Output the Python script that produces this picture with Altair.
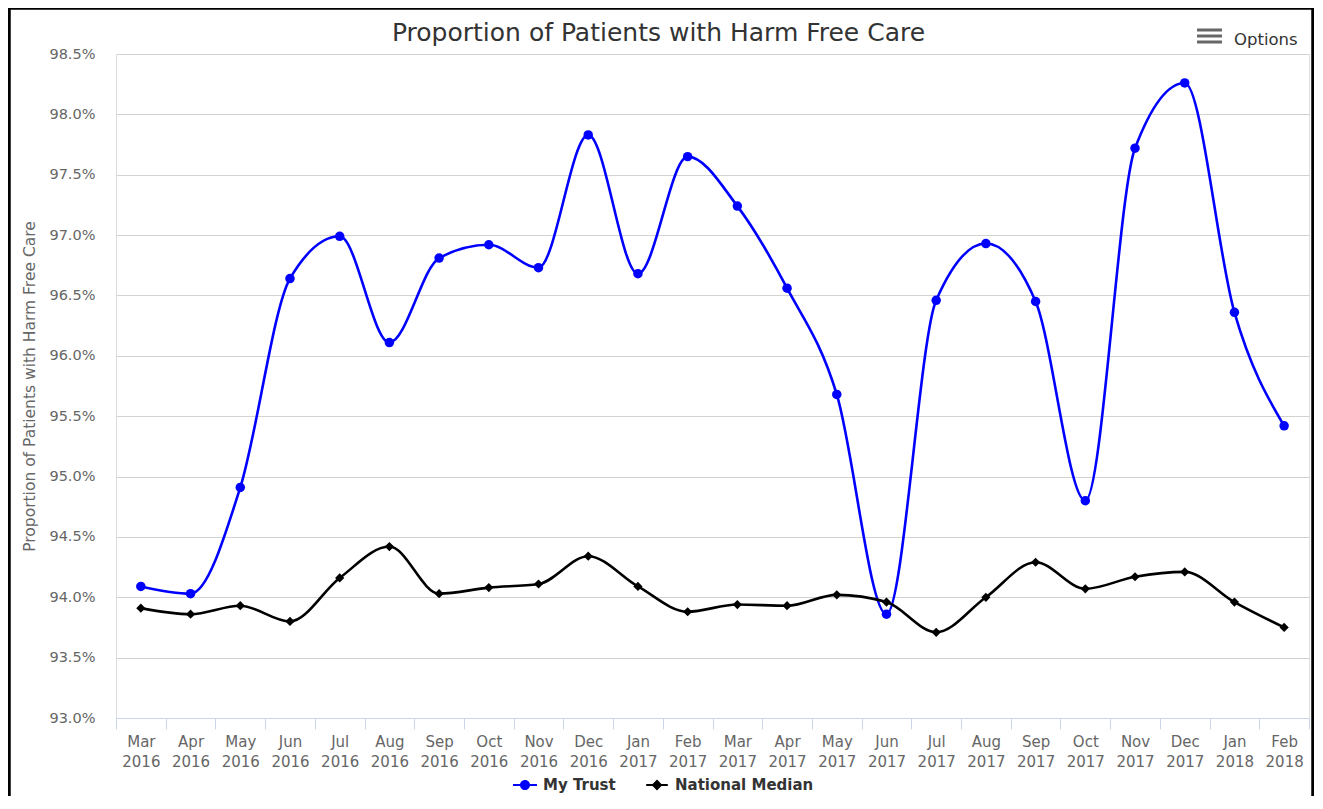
import altair as alt
import pandas as pd

months = ["Mar 2016", "Apr 2016", "May 2016", "Jun 2016", "Jul 2016", "Aug 2016",
          "Sep 2016", "Oct 2016", "Nov 2016", "Dec 2016", "Jan 2017", "Feb 2017",
          "Mar 2017", "Apr 2017", "May 2017", "Jun 2017", "Jul 2017", "Aug 2017",
          "Sep 2017", "Oct 2017", "Nov 2017", "Dec 2017", "Jan 2018", "Feb 2018"]

my_trust = [94.09, 94.03, 94.91, 96.64, 96.99, 96.11, 96.81, 96.92, 96.73, 97.83,
            96.68, 97.65, 97.24, 96.56, 95.68, 93.86, 96.46, 96.93, 96.45, 94.80,
            97.72, 98.26, 96.36, 95.42]

national_median = [93.91, 93.86, 93.93, 93.80, 94.16, 94.42, 94.03, 94.08, 94.11, 94.34,
                   94.09, 93.88, 93.94, 93.93, 94.02, 93.96, 93.71, 94.00, 94.29, 94.07,
                   94.17, 94.21, 93.96, 93.75]

series_names = ["My Trust", "National Median"]
series_colors = ["#0000ff", "#000000"]
y_ticks = [93.0, 93.5, 94.0, 94.5, 95.0, 95.5, 96.0, 96.5, 97.0, 97.5, 98.0, 98.5]

df = pd.DataFrame({
    "month": months * 2,
    "series": [series_names[0]] * len(months) + [series_names[1]] * len(months),
    "value": my_trust + national_median,
})

FONT = "DejaVu Sans"
W, H = 1193, 664

color_scale = alt.Scale(domain=series_names, range=series_colors)

x_enc = alt.X(
    "month:N", sort=months,
    scale=alt.Scale(type="band", paddingInner=0, paddingOuter=0),
    axis=alt.Axis(
        title=None, labelAngle=0, tickBand="extent", grid=False,
        domainColor="#ccd6eb", tickColor="#ccd6eb", tickSize=11, tickWidth=1,
        labelExpr="split(datum.label, ' ')", labelLineHeight=20,
        labelFont=FONT, labelFontSize=15, labelColor="#666666",
        labelPadding=5, labelOverlap=False,
    ),
)
y_enc = alt.Y(
    "value:Q",
    scale=alt.Scale(domain=[93.0, 98.5], nice=False, zero=False),
    axis=alt.Axis(
        values=y_ticks, labelExpr="format(datum.value, '.1f') + '%'",
        title="Proportion of Patients with Harm Free Care",
        titleFont=FONT, titleFontSize=15.5, titleFontWeight="normal", titleColor="#666666",
        titleX=-79, titleY=H / 2,
        labelFont=FONT, labelFontSize=14.5, labelColor="#666666",
        ticks=False, tickSize=0, domain=False, labelPadding=21,
        grid=True, gridColor="#d3d3d3", gridWidth=1,
    ),
)

base = alt.Chart(df)

legend_paths = [
    "M-1,-0.09L1,-0.09L1,0.09L-1,0.09Z M0.42,0A0.42,0.42,0,1,1,-0.42,0A0.42,0.42,0,1,1,0.42,0Z",
    "M-0.9,-0.09L0.9,-0.09L0.9,0.09L-0.9,0.09Z M0,-0.45L0.45,0L0,0.45L-0.45,0Z",
]
legend_props = dict(
    title=None, orient="none", legendX=397, legendY=719, direction="horizontal",
    labelFont=FONT, labelFontSize=15, labelFontWeight="bold", labelColor="#333333",
    symbolSize=576, symbolStrokeWidth=0, symbolOpacity=1, columnPadding=29,
    labelOffset=6, padding=0,
)
# invisible layer that only carries the legend (first, so its legend settings win)
legend_layer = base.mark_point(filled=True, size=576, opacity=0).encode(
    x=x_enc, y=y_enc,
    color=alt.Color("series:N", scale=color_scale, legend=alt.Legend(**legend_props)),
    shape=alt.Shape("series:N", scale=alt.Scale(domain=series_names, range=legend_paths),
                    legend=alt.Legend(**legend_props)),
)

lines = base.mark_line(interpolate="monotone", strokeWidth=2.6).encode(
    x=x_enc, y=y_enc,
    color=alt.Color("series:N", scale=color_scale, legend=None),
    detail="series:N",
)

points = base.mark_point(filled=True, opacity=1).encode(
    x=x_enc, y=y_enc,
    color=alt.Color("series:N", scale=color_scale, legend=None),
    shape=alt.condition(alt.datum.series == "My Trust", alt.value("circle"), alt.value("diamond")),
    size=alt.condition(alt.datum.series == "My Trust", alt.value(90), alt.value(85)),
)

one = pd.DataFrame({"k": [0]})

border = alt.Chart(one).mark_rect(fill=None, stroke="#000000", strokeWidth=3.5).encode(
    x=alt.value(-107), x2=alt.value(1197), y=alt.value(-46), y2=alt.value(780)
)

menu_bars = alt.Chart(pd.DataFrame({"yy": [-24, -18, -12]})).mark_rule(
    color="#666666", strokeWidth=3
).encode(x=alt.value(1081), x2=alt.value(1106), y=alt.Y("yy:Q", scale=None))

options_text = alt.Chart(one).mark_text(
    text="Options", font=FONT, fontSize=16.5, color="#333333", align="left", baseline="alphabetic"
).encode(x=alt.value(1118), y=alt.value(-9))

chart = alt.layer(legend_layer, lines, points, border, menu_bars, options_text).properties(
    width=W, height=H,
    title=alt.TitleParams(
        "Proportion of Patients with Harm Free Care", font=FONT, fontSize=25,
        fontWeight="normal", color="#333333", anchor="middle", frame="group",
        baseline="alphabetic", dx=-54, offset=-60,
    ),
    autosize=alt.AutoSizeParams(type="none"),
    padding={"left": 108, "top": 46, "right": 5, "bottom": 78},
).configure_view(stroke="#cccccc", strokeWidth=1).configure(background="#ffffff")

chart.save("out.html", embed_options={"renderer": "svg", "actions": False})
